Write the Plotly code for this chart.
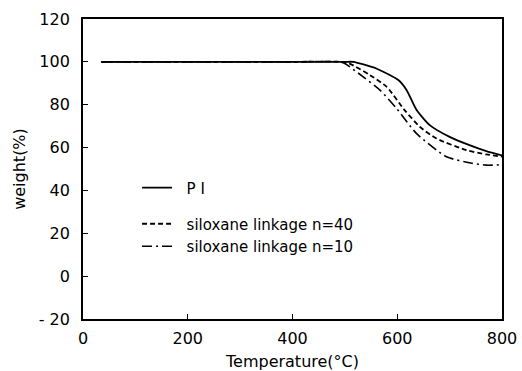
import plotly.graph_objects as go

# ---- data ----
temp_pi = [35, 200, 400, 500, 516, 560, 602, 618, 637, 662, 700, 738, 770, 800]
weight_pi = [100, 100, 100, 100, 100, 96.9, 91.5, 86.8, 77.5, 70.5, 65.0, 61.1, 58.3, 56.3]

temp_n40 = [35, 200, 400, 495, 509, 548, 580, 614, 643, 675, 732, 770, 800]
weight_n40 = [100, 100, 100, 100, 99.2, 93.8, 88.3, 77.5, 69.7, 64.2, 58.8, 56.8, 55.8]

temp_n10 = [35, 200, 400, 490, 500, 535, 567, 599, 637, 694, 740, 770, 800]
weight_n10 = [100, 100, 100, 100, 99.2, 93.0, 86.8, 78.2, 66.5, 55.7, 52.8, 51.8, 52.0]

x_ticks = [0, 200, 400, 600, 800]
x_ticktext = ["0", "200", "400", "600", "800"]
y_ticks = [-20, 0, 20, 40, 60, 80, 100, 120]
y_ticktext = ["- 20", "0", "20", "40", "60", "80", "100", "120"]

names = ["P I", "siloxane linkage n=40", "siloxane linkage n=10"]

FONT = "DejaVu Sans"
PAD = "\u00a0\u00a0"
fig = go.Figure()
fig.add_trace(go.Scatter(x=temp_pi, y=weight_pi, mode="lines", name=PAD + names[0],
                         line=dict(color="black", width=1.8, shape="spline", smoothing=0.6),
                         legend="legend"))
fig.add_trace(go.Scatter(x=temp_n40, y=weight_n40, mode="lines", name=PAD + names[1],
                         line=dict(color="black", width=1.8, dash="5px,3px", shape="spline", smoothing=0.6),
                         legend="legend2"))
fig.add_trace(go.Scatter(x=temp_n10, y=weight_n10, mode="lines", name=PAD + names[2],
                         line=dict(color="black", width=1.6, dash="10px,4px,2px,4px", shape="spline", smoothing=0.6),
                         legend="legend2"))

axis_common = dict(showline=True, linecolor="black", linewidth=1.8, mirror=True,
                   ticks="inside", ticklen=5, tickwidth=1.2, tickcolor="black",
                   showgrid=False, zeroline=False, automargin=False,
                   tickfont=dict(family=FONT, size=16, color="black"))

fig.update_layout(
    width=522, height=371,
    margin=dict(l=83, r=20, t=19, b=52),
    paper_bgcolor="white", plot_bgcolor="white",
    font=dict(family=FONT, size=15, color="black"),
    xaxis=dict(range=[0, 800], tickvals=x_ticks, ticktext=x_ticktext,
               title=dict(text="Temperature(°C)", font=dict(family=FONT, size=16), standoff=11),
               ticklabelstandoff=4, **axis_common),
    yaxis=dict(range=[-20, 120], tickvals=y_ticks, ticktext=y_ticktext,
               title=dict(text="weight(%)", font=dict(family=FONT, size=16), standoff=9),
               ticklabelstandoff=8, **axis_common),
    showlegend=True,
    legend=dict(x=0.129, y=0.437, xanchor="left", yanchor="middle", bgcolor="rgba(0,0,0,0)",
                itemwidth=30, font=dict(family=FONT, size=15)),
    legend2=dict(x=0.129, y=0.28, xanchor="left", yanchor="middle", bgcolor="rgba(0,0,0,0)",
                 itemwidth=30, font=dict(family=FONT, size=15), tracegroupgap=0),
)

fig.write_html("out.html")
